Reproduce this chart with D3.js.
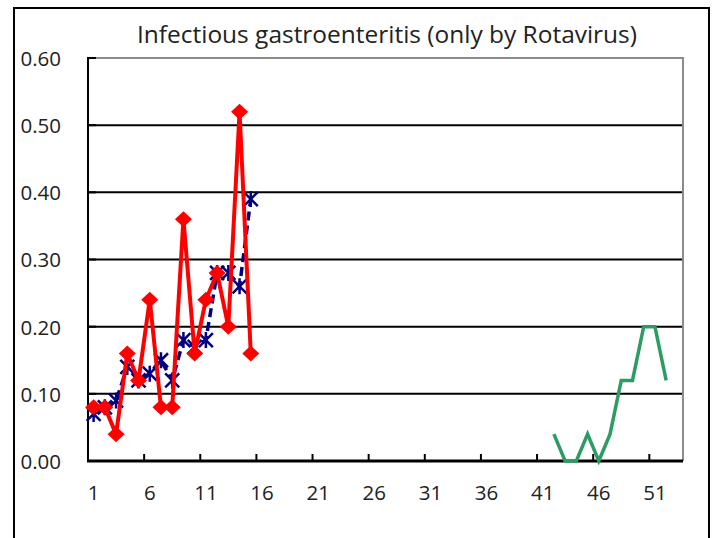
<!DOCTYPE html>
<html lang="en">
<head>
    <meta charset="UTF-8">
    <script src="https://d3js.org/d3.v7.min.js"></script>
    <title>Infectious gastroenteritis (only by Rotavirus)</title>
    <style>
        body { margin: 0; background: #fff; }
        text { font-family: "Open Sans", "DejaVu Sans", sans-serif; fill: #222; }
    </style>
</head>
<body>
    <div id="viz"></div>
    <script>
        // weeks 1..53
        const weeks = d3.range(1, 54)
        const xTickLabels = [1, 6, 11, 16, 21, 26, 31, 36, 41, 46, 51]
        const yTicks = [0, 0.1, 0.2, 0.3, 0.4, 0.5, 0.6]

        // red series, weeks 1-15
        const redWeeks = d3.range(1, 16)
        const redValues = [0.08, 0.08, 0.04, 0.16, 0.12, 0.24, 0.08, 0.08, 0.36, 0.16, 0.24, 0.28, 0.20, 0.52, 0.16]
        // blue dashed series, weeks 1-15
        const blueWeeks = d3.range(1, 16)
        const blueValues = [0.07, 0.08, 0.09, 0.14, 0.12, 0.13, 0.15, 0.12, 0.18, 0.17, 0.18, 0.28, 0.28, 0.26, 0.39]
        // green series, weeks 42-52
        const greenWeeks = d3.range(42, 53)
        const greenValues = [0.04, 0, 0, 0.04, 0, 0.04, 0.12, 0.12, 0.20, 0.20, 0.12]

        const width = 715
        const height = 538
        const plot = {left: 88, right: 683, top: 58, bottom: 461}

        const svg = d3.select("#viz")
            .append("svg")
            .attr("width", width)
            .attr("height", height)

        // chart frame
        svg.append("rect")
            .attr("x", 14).attr("y", 8)
            .attr("width", 695).attr("height", 545)
            .attr("fill", "white")
            .attr("stroke", "black")
            .attr("stroke-width", 2)

        const xScale = d3.scaleBand()
            .domain(weeks)
            .range([plot.left, plot.right])
        const yScale = d3.scaleLinear()
            .domain([0, 0.6])
            .range([plot.bottom, plot.top])
        const xc = d => xScale(d) + xScale.bandwidth() / 2

        // gridlines
        svg.append("g")
            .selectAll("line")
            .data(yTicks.filter(d => d > 0 && d < 0.6))
            .enter()
            .append("line")
            .attr("x1", plot.left).attr("x2", plot.right)
            .attr("y1", d => yScale(d)).attr("y2", d => yScale(d))
            .attr("stroke", "black")
            .attr("stroke-width", 2)

        // plot area border (top / right grey)
        svg.append("path")
            .attr("d", `M${plot.left},${yScale(0.6)}H${plot.right}V${plot.bottom}`)
            .attr("fill", "none")
            .attr("stroke", "#8c8c8c")
            .attr("stroke-width", 2)

        // y axis
        const yAxis = svg.append("g")
            .attr("transform", `translate(${plot.left},0)`)
            .call(d3.axisLeft(yScale).tickValues(yTicks).tickFormat(d3.format(".2f")).tickSize(0).tickPadding(27))
        yAxis.select(".domain").remove()
        yAxis.selectAll("text").attr("font-size", 20.5).attr("dy", "0.36em")
        svg.append("g")
            .selectAll("line")
            .data(yTicks)
            .enter()
            .append("line")
            .attr("x1", plot.left).attr("x2", plot.left + 8)
            .attr("y1", d => yScale(d)).attr("y2", d => yScale(d))
            .attr("stroke", "black")
            .attr("stroke-width", 2)
        svg.append("line")
            .attr("x1", plot.left).attr("x2", plot.left)
            .attr("y1", plot.top - 1).attr("y2", plot.bottom)
            .attr("stroke", "black")
            .attr("stroke-width", 2)

        // x axis: labels centred on weeks, ticks between groups of 5
        const xAxis = svg.append("g")
            .attr("transform", `translate(0,${plot.bottom})`)
            .call(d3.axisBottom(xScale).tickValues(xTickLabels).tickSize(0).tickPadding(24))
        xAxis.select(".domain").remove()
        xAxis.selectAll("text").attr("font-size", 20.5).attr("dy", "0.71em")
        svg.append("g")
            .selectAll("line")
            .data(xTickLabels.slice(1))
            .enter()
            .append("line")
            .attr("x1", d => xScale(d)).attr("x2", d => xScale(d))
            .attr("y1", plot.bottom - 7).attr("y2", plot.bottom)
            .attr("stroke", "black")
            .attr("stroke-width", 2)
        svg.append("line")
            .attr("x1", plot.left - 1).attr("x2", plot.right)
            .attr("y1", plot.bottom).attr("y2", plot.bottom)
            .attr("stroke", "black")
            .attr("stroke-width", 3)

        const lineGen = d3.line()
            .x(d => xc(d[0]))
            .y(d => yScale(d[1]))

        // green
        svg.append("path")
            .attr("d", lineGen(d3.zip(greenWeeks, greenValues)))
            .attr("fill", "none")
            .attr("stroke", "#2e9a64")
            .attr("stroke-width", 3.5)

        // blue dashed with asterisks
        const blueData = d3.zip(blueWeeks, blueValues)
        svg.append("path")
            .attr("d", lineGen(blueData))
            .attr("fill", "none")
            .attr("stroke", "#000080")
            .attr("stroke-width", 3.5)
            .attr("stroke-dasharray", "9,5")
        svg.append("g")
            .selectAll("path")
            .data(blueData)
            .enter()
            .append("path")
            .attr("transform", d => `translate(${xc(d[0])},${yScale(d[1])})`)
            .attr("d", "M-7,-7L7,7M-7,7L7,-7M0,-8L0,8")
            .attr("stroke", "#000080")
            .attr("stroke-width", 2.5)

        // red with diamonds
        const redData = d3.zip(redWeeks, redValues)
        svg.append("path")
            .attr("d", lineGen(redData))
            .attr("fill", "none")
            .attr("stroke", "red")
            .attr("stroke-width", 4)
            .attr("stroke-linejoin", "round")
        svg.append("g")
            .selectAll("path")
            .data(redData)
            .enter()
            .append("path")
            .attr("transform", d => `translate(${xc(d[0])},${yScale(d[1])})`)
            .attr("d", "M0,-8L8.5,0L0,8L-8.5,0Z")
            .attr("fill", "red")

        // title
        svg.append("text")
            .attr("x", 387)
            .attr("y", 43)
            .attr("text-anchor", "middle")
            .attr("font-size", 23)
            .attr("textLength", 500)
            .attr("lengthAdjust", "spacingAndGlyphs")
            .text("Infectious gastroenteritis (only by Rotavirus)")
    </script>
</body>
</html>
